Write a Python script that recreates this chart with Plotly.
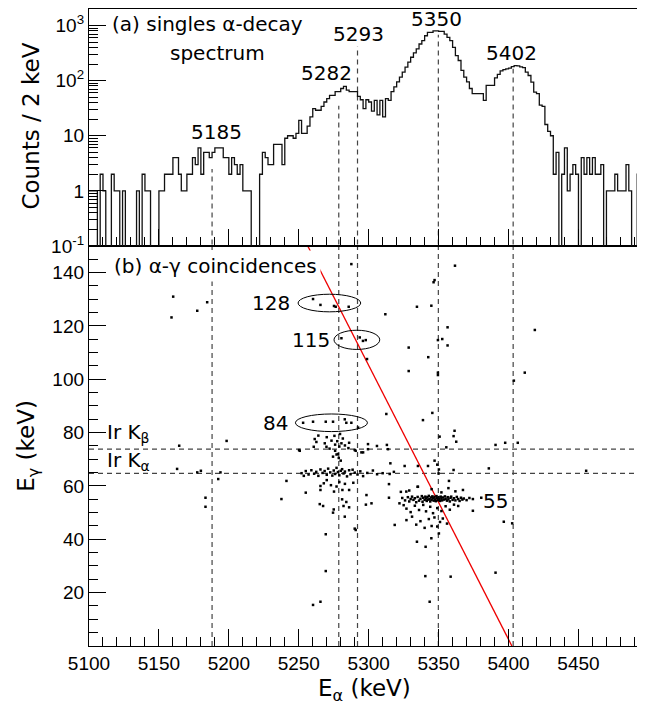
import plotly.graph_objects as go

# ---------------- data ----------------
bin_width = 2
e_start = 5100
counts = [
    1, 1, 1, 0, 2, 1, 0, 0, 2, 1,
    1, 0, 1, 0, 0, 0, 0, 1, 0, 2,
    1, 1, 0, 0, 0, 1, 1, 2, 2, 2,
    4, 4, 2, 1, 1, 2, 2, 4, 3, 6,
    2, 5, 5, 4, 5, 6, 6, 6, 4, 4,
    2, 4, 3, 2, 3, 1, 1, 1, 0, 0,
    0, 2, 5, 4, 3, 3, 7, 7, 7, 3,
    9, 10, 10, 9, 11, 19, 11, 11, 15, 22,
    31, 29, 29, 34, 41, 47, 54, 54, 63, 63,
    72, 79, 67, 63, 63, 63, 52, 45, 31, 45,
    41, 28, 44, 24, 44, 22, 47, 44, 63, 77,
    95, 116, 143, 176, 216, 266, 318, 376, 462, 531,
    653, 750, 750, 803, 803, 782, 782, 700, 610, 531,
    403, 285, 232, 153, 116, 95, 72, 58, 58, 58,
    58, 44, 82, 82, 82, 112, 130, 150, 158, 164,
    168, 180, 188, 185, 178, 172, 143, 124, 94, 62,
    58, 36, 34, 16, 12, 10, 2, 5, 0, 2,
    6, 1, 2, 3, 2, 0, 4, 2, 4, 2,
    4, 2, 2, 3, 0, 1, 1, 1, 2, 1,
    1, 1, 3, 1, 0, 0, 2,
]

coinc_points = [
    # isolated events
    (5160.2, 131.0), (5159.0, 123.2), (5177.4, 125.7), (5184.5, 128.9),
    (5164.5, 75.1), (5198.4, 76.9), (5163.0, 66.4), (5177.4, 65.1),
    (5180.0, 65.7), (5194.0, 65.1), (5192.4, 62.6), (5183.3, 55.6),
    (5183.3, 52.2), (5241.2, 61.9), (5237.6, 55.1), (5250.2, 73.5),
    (5287.6, 143.2), (5361.7, 142.6), (5347.1, 137.2), (5346.4, 136.4),
    (5260.2, 130.1), (5265.5, 127.9), (5275.2, 127.5), (5276.4, 127.2),
    (5285.7, 127.2), (5334.5, 127.2), (5344.8, 127.6), (5311.9, 124.4),
    (5356.4, 119.5), (5418.8, 118.5), (5280.5, 115.4), (5293.6, 115.7),
    (5295.9, 114.4), (5297.9, 114.7), (5349.5, 114.7), (5352.6, 115.1),
    (5356.4, 112.7), (5328.6, 111.9), (5342.6, 108.3), (5298.8, 107.6),
    (5328.6, 103.1), (5349.5, 102.5), (5349.5, 101.6), (5403.8, 99.5),
    (5411.6, 102.5), (5312.6, 87.0), (5345.5, 87.4), (5338.8, 84.7),
    (5253.1, 83.7), (5260.2, 84.1), (5269.3, 84.1), (5274.5, 84.1),
    (5282.9, 85.0), (5284.0, 83.7), (5287.6, 83.7), (5292.4, 81.9),
    (5361.4, 80.7), (5360.7, 78.7), (5362.6, 76.6), (5350.7, 78.5),
    (5390.7, 75.4), (5397.6, 76.2), (5406.6, 76.2), (5355.5, 74.5),
    # Kbeta region
    (5261.4, 77.6), (5262.6, 76.5), (5264.0, 78.9), (5268.6, 76.0),
    (5270.0, 78.3), (5273.4, 77.0), (5276.0, 75.5), (5277.5, 76.8),
    (5279.0, 74.8), (5280.5, 76.0), (5281.5, 77.8), (5283.0, 75.2),
    (5286.0, 76.2), (5269.8, 74.7), (5272.0, 74.0), (5276.0, 73.2),
    (5278.0, 72.0), (5285.5, 74.2), (5290.0, 73.5), (5294.8, 72.6),
    (5299.5, 75.7), (5299.5, 73.8), (5305.9, 75.0), (5313.0, 75.4),
    (5313.8, 73.8), (5274.5, 71.0), (5277.0, 71.8), (5278.6, 70.5),
    (5280.0, 69.5), (5275.5, 78.8), (5279.5, 79.5), (5250.7, 73.2),
    (5260.7, 74.7), (5290.7, 73.2), (5296.0, 72.6),
    # Kalpha band
    (5252.0, 64.8), (5255.0, 65.6), (5257.0, 64.3), (5259.0, 65.9),
    (5261.0, 64.6), (5262.5, 65.3), (5264.0, 63.8), (5265.5, 66.2),
    (5267.0, 64.9), (5268.5, 65.6), (5270.0, 64.2), (5271.0, 66.5),
    (5272.5, 65.1), (5274.0, 63.9), (5275.0, 65.8), (5276.0, 64.5),
    (5277.0, 66.8), (5278.0, 65.2), (5279.0, 64.0), (5280.0, 65.7),
    (5281.0, 66.3), (5282.0, 64.7), (5283.0, 65.4), (5284.5, 63.6),
    (5286.0, 65.9), (5287.0, 64.4), (5288.5, 66.1), (5290.0, 65.0),
    (5292.0, 64.3), (5294.0, 65.5), (5296.0, 63.7), (5299.0, 64.9),
    (5303.0, 65.8), (5306.0, 64.4), (5310.0, 64.8), (5315.0, 64.5),
    (5318.0, 65.3),
    # 55-70 keV region
    (5255.0, 57.5), (5265.5, 60.0), (5265.5, 58.5), (5267.9, 61.0),
    (5270.0, 62.2), (5273.0, 60.3), (5275.2, 57.9), (5277.0, 59.8),
    (5279.0, 61.5), (5281.2, 58.5), (5283.0, 60.8), (5286.0, 58.5),
    (5289.0, 61.2), (5298.4, 56.6), (5253.6, 63.8), (5314.5, 60.7),
    (5314.5, 55.6), (5315.5, 68.5), (5325.7, 67.5), (5335.2, 67.5),
    (5342.4, 67.5), (5347.1, 69.5), (5335.2, 59.7), (5350.2, 66.2),
    (5360.7, 66.0), (5385.9, 66.6), (5455.5, 65.7), (5357.4, 61.9),
    (5367.4, 58.5), (5350.0, 64.7), (5349.0, 68.0),
    # lower left
    (5267.4, 52.5), (5265.0, 53.2), (5274.5, 50.0), (5275.0, 51.2),
    (5281.0, 55.0), (5282.0, 52.5), (5284.0, 54.0), (5286.0, 52.0),
    (5282.9, 48.5), (5290.0, 44.0), (5290.7, 43.5), (5298.0, 53.0),
    (5302.0, 53.5), (5269.3, 41.9), (5269.3, 28.1), (5260.2, 15.4),
    (5265.5, 16.6), (5343.6, 16.6), (5340.5, 26.2), (5358.6, 26.0),
    (5390.7, 27.5), (5396.6, 46.6), (5402.6, 46.0),
    # 55 keV cluster
    (5324.0, 55.5), (5326.0, 54.6), (5328.0, 55.8), (5329.0, 54.2),
    (5330.0, 55.1), (5331.0, 56.0), (5332.0, 54.8), (5333.0, 55.4),
    (5334.0, 53.9), (5335.0, 55.9), (5336.0, 54.5), (5337.0, 55.2),
    (5338.0, 56.2), (5338.5, 54.1), (5339.0, 55.6), (5340.0, 54.8),
    (5340.5, 56.0), (5341.0, 55.3), (5341.5, 54.4), (5342.0, 55.8),
    (5342.5, 54.9), (5343.0, 56.3), (5343.5, 55.1), (5344.0, 54.2),
    (5344.5, 55.7), (5345.0, 54.8), (5345.5, 56.1), (5346.0, 55.4),
    (5346.5, 54.5), (5347.0, 55.9), (5347.5, 55.0), (5348.0, 54.3),
    (5348.5, 56.2), (5349.0, 55.5), (5349.5, 54.7), (5350.0, 55.8),
    (5350.5, 55.1), (5351.0, 54.4), (5351.5, 56.0), (5352.0, 55.3),
    (5352.5, 54.6), (5353.0, 55.7), (5354.0, 54.9), (5354.5, 56.1),
    (5355.0, 55.2), (5356.0, 54.5), (5356.5, 55.8), (5357.0, 55.0),
    (5358.0, 54.2), (5358.5, 55.6), (5359.0, 56.0), (5360.0, 54.8),
    (5361.0, 55.4), (5362.0, 54.6), (5363.0, 55.9), (5364.0, 55.1),
    (5365.0, 54.4), (5366.0, 55.6), (5367.0, 54.9), (5368.0, 55.3),
    (5370.0, 54.7), (5372.0, 55.5), (5374.5, 55.1), (5380.5, 55.6),
    (5374.5, 50.7),
    # spread around the cluster
    (5322.0, 53.5), (5325.0, 52.8), (5327.0, 51.5), (5330.0, 50.2),
    (5333.0, 52.6), (5336.0, 51.0), (5339.0, 52.9), (5341.0, 50.5),
    (5344.0, 52.2), (5346.0, 49.8), (5349.0, 51.7), (5352.0, 50.6),
    (5355.0, 52.4), (5358.0, 51.1), (5361.0, 53.0), (5364.0, 52.5),
    (5323.0, 57.8), (5329.0, 58.3), (5335.0, 59.7), (5345.0, 58.8),
    (5352.0, 57.6), (5357.0, 59.2), (5362.0, 58.0), (5326.9, 57.9),
    (5318.6, 45.4), (5327.0, 47.2), (5331.0, 48.5), (5334.0, 45.5),
    (5337.0, 46.8), (5340.0, 44.3), (5343.0, 47.6), (5345.0, 45.0),
    (5347.0, 48.2), (5349.0, 44.8), (5351.0, 46.5), (5353.0, 47.8),
    (5356.0, 45.9), (5350.2, 42.2), (5344.8, 40.4), (5334.5, 39.1),
    (5340.7, 37.2),
]
coinc_ea = [p[0] for p in coinc_points]
coinc_eg = [p[1] for p in coinc_points]

peak_line_x = [5188.0, 5278.6, 5292.0, 5349.8, 5403.3]
peak_line_top = [2.5, 35.0, 420.0, 680.0, 165.0]
peak_labels = ["5185", "5282", "5293", "5350", "5402"]
peak_label_x = [5191.2, 5269.8, 5292.4, 5348.4, 5402.4]
peak_label_logy = [1.06, 2.13, 2.84, 3.11, 2.50]

ir_lines = [73.8, 64.7]
ir_labels = ["Ir K<sub>β</sub>", "Ir K<sub>α</sub>"]
ir_label_y = [79.9, 69.4]

gamma_labels = ["128", "115", "84", "55"]
gamma_label_x = [5245.0, 5258.9, 5243.6, 5390.7]
gamma_label_y = [128.6, 114.7, 83.6, 54.4]
gamma_label_anchor = ["right", "center", "right", "center"]
ellipses = [  # (x0, x1, y0, y1)
    (5249.5, 5294.3, 125.3, 131.9),
    (5275.2, 5307.9, 111.2, 118.4),
    (5247.6, 5299.1, 80.4, 87.0),
]

kin_line_x = [5256.4, 5402.4]
kin_line_y = [150.0, 0.0]

x_range = [5100, 5494]
x_ticks = [5100, 5150, 5200, 5250, 5300, 5350, 5400, 5450]
y_top_ticks = [0.1, 1, 10, 100, 1000]
y_top_ticktext = ["10<sup>-1</sup>", "1", "10", "10<sup>2</sup>", "10<sup>3</sup>"]
y_bot_ticks = [20, 40, 60, 80, 100, 120, 140]

# ---------------- figure ----------------
edges = [e_start + bin_width * i for i in range(len(counts) + 1)]
hist_y = [c if c > 0 else 1e-4 for c in counts] + [counts[-1] if counts[-1] > 0 else 1e-4]

fig = go.Figure()
DASH = "5px,4px"
LC = "#444444"

# top panel dashed lines
for xv, top in zip(peak_line_x, peak_line_top):
    fig.add_trace(go.Scatter(x=[xv, xv], y=[0.05, top], mode="lines",
                             line=dict(color=LC, width=1.2, dash=DASH),
                             xaxis="x2", yaxis="y2", hoverinfo="skip"))
fig.add_trace(go.Scatter(x=edges, y=hist_y, mode="lines", line_shape="hv",
                         line=dict(color="#111111", width=1.3),
                         xaxis="x2", yaxis="y2"))

# bottom panel dashed lines
for xv in peak_line_x:
    fig.add_trace(go.Scatter(x=[xv, xv], y=[0, 150], mode="lines",
                             line=dict(color=LC, width=1.2, dash=DASH),
                             hoverinfo="skip"))
for yv in ir_lines:
    fig.add_trace(go.Scatter(x=x_range, y=[yv, yv], mode="lines",
                             line=dict(color=LC, width=1.2, dash=DASH),
                             hoverinfo="skip"))
fig.add_trace(go.Scatter(x=kin_line_x, y=kin_line_y, mode="lines",
                         line=dict(color="#ee0000", width=1.3)))
fig.add_trace(go.Scatter(x=coinc_ea, y=coinc_eg, mode="markers",
                         marker=dict(color="black", size=2.5, symbol="square")))

shapes = []
for (x0, x1, y0, y1) in ellipses:
    shapes.append(dict(type="circle", xref="x", yref="y", x0=x0, x1=x1, y0=y0, y1=y1,
                       line=dict(color="black", width=1)))

AF = dict(family="DejaVu Sans", size=20, color="black")
ann = []
for t, xv, yv in zip(peak_labels, peak_label_x, peak_label_logy):
    ann.append(dict(text=t, x=xv, y=yv, xref="x2", yref="y2", showarrow=False,
                    font=AF, xanchor="center", yanchor="middle"))
ann.append(dict(text="(a) singles α-decay", x=5115, y=3.02, xref="x2", yref="y2",
                showarrow=False, font=AF, xanchor="left", yanchor="middle"))
ann.append(dict(text="spectrum", x=5192, y=2.51, xref="x2", yref="y2",
                showarrow=False, font=AF, xanchor="center", yanchor="middle"))
ann.append(dict(text="(b) α-γ coincidences", x=5115, y=142.5, xref="x", yref="y",
                showarrow=False, font=AF, xanchor="left", yanchor="middle",
                bgcolor="white", borderpad=3))
for t, xv, yv, a in zip(gamma_labels, gamma_label_x, gamma_label_y, gamma_label_anchor):
    ann.append(dict(text=t, x=xv, y=yv, xref="x", yref="y", showarrow=False,
                    font=AF, xanchor=a, yanchor="middle"))
for t, yv in zip(ir_labels, ir_label_y):
    ann.append(dict(text=t, x=5111.4, y=yv, xref="x", yref="y", showarrow=False,
                    font=AF, xanchor="left", yanchor="middle"))

TF = dict(family="DejaVu Sans", size=23, color="black")
ann.append(dict(text="Counts / 2 keV", x=-0.107, y=0.8155, xref="paper", yref="paper",
                showarrow=False, font=TF, textangle=-90, xanchor="center", yanchor="middle"))
ann.append(dict(text="E<sub>γ</sub> (keV)", x=-0.111, y=0.314, xref="paper", yref="paper",
                showarrow=False, font=TF, textangle=-90, xanchor="center", yanchor="middle"))
ann.append(dict(text="E<sub>α</sub> (keV)", x=0.5, y=-0.069, xref="paper", yref="paper",
                showarrow=False, font=TF, xanchor="center", yanchor="middle"))

tickfont = dict(family="Liberation Sans", size=19, color="black")
axis_common = dict(showline=True, linecolor="black", linewidth=1.3, mirror=True,
                   showgrid=False, zeroline=False, ticks="inside", tickcolor="black",
                   tickwidth=1, tickfont=tickfont, automargin=False)

minor_log = []
for dec in [0.1, 1, 10, 100, 1000]:
    for m in range(2, 10):
        v = dec * m
        if v < 2000:
            minor_log.append(v)

# the page adds an 8px body margin, so the figure is sized to fit the window
fig.update_layout(
    width=637, height=705,
    margin=dict(l=81, r=5, t=1, b=67, autoexpand=False),
    paper_bgcolor="white", plot_bgcolor="white",
    showlegend=False,
    shapes=shapes, annotations=ann,
    xaxis=dict(axis_common, range=x_range, anchor="y", tickvals=x_ticks, ticklen=17,
               minor=dict(dtick=10, tick0=5100, ticks="inside", ticklen=9, tickcolor="black")),
    yaxis=dict(axis_common, domain=[0, 0.628], range=[0, 150], anchor="x",
               tickvals=y_bot_ticks, ticklen=17,
               minor=dict(dtick=5, tick0=0, ticks="inside", ticklen=9, tickcolor="black")),
    xaxis2=dict(axis_common, range=x_range, anchor="y2", matches="x", tickvals=x_ticks,
                showticklabels=False, ticklen=17,
                minor=dict(dtick=10, tick0=5100, ticks="inside", ticklen=9, tickcolor="black")),
    yaxis2=dict(axis_common, type="log", domain=[0.628, 1], range=[-1, 3.3], anchor="x2",
                tickvals=y_top_ticks, ticktext=y_top_ticktext, ticklen=17,
                minor=dict(tickvals=minor_log, ticks="inside", ticklen=9, tickcolor="black")),
)

fig.write_html("out.html")
